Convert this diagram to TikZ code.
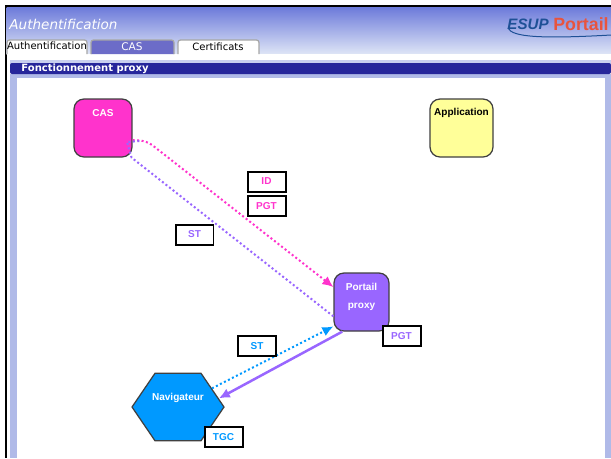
\documentclass[tikz,border=0pt]{standalone}
\usepackage{fontspec}
\setmainfont{Liberation Sans}
\newfontfamily\headfont{DejaVu Sans}
\usetikzlibrary{arrows.meta,shapes.geometric}

\definecolor{casPink}{RGB}{255,51,204}
\definecolor{appYellow}{RGB}{255,255,153}
\definecolor{proxyPurple}{RGB}{153,102,255}
\definecolor{navBlue}{RGB}{0,153,255}
\definecolor{barNavy}{RGB}{38,38,155}
\definecolor{barEdge}{RGB}{176,186,232}
\definecolor{headTop}{RGB}{108,122,218}
\definecolor{headBottom}{RGB}{222,229,246}
\definecolor{tabBlue}{RGB}{108,108,200}
\definecolor{logoBlue}{RGB}{30,80,150}
\definecolor{logoRed}{RGB}{232,84,62}

\tikzset{
	boxnode/.style={draw=black!75,line width=0.025cm,rounded corners=0.2cm,inner sep=0pt},
	boxtext/.style={text=white,font=\bfseries\fontsize{5.7}{10.2}\selectfont,align=center,inner sep=0pt},
	tagbox/.style={draw=black,line width=0.04cm,fill=white,minimum width=0.76cm,minimum height=0.4cm,inner sep=0pt,font=\bfseries\fontsize{5.7}{6}\selectfont},
	tabedge/.style={draw=black!35,line width=0.025cm,rounded corners=0.05cm},
	tabtext/.style={inner sep=0pt,font=\headfont\fontsize{5.7}{6}\selectfont},
	dotline/.style={line width=0.04cm,dash pattern=on 0.04cm off 0.05cm},
	tip/.style={-{Latex[length=0.22cm,width=0.2cm]}}
}

\begin{document}
\begin{tikzpicture}[x=0.02cm,y=-0.02cm]
	\useasboundingbox (0,0) rectangle (611,458);
	
	% Draw window and header
	\fill[black] (4.5,5) rectangle (611,458);
	\shade[top color=headTop,bottom color=headBottom] (6.5,7) rectangle (611,54);
	\fill[white] (6.5,54) rectangle (611,458);
	\fill[barEdge!70] (10,60) rectangle (611,64);
	\fill[barEdge] (10,74) rectangle (611,458);
	\fill[barNavy,rounded corners=0.04cm] (10,63) rectangle (611,74);
	\fill[white] (17,78) rectangle (605,458);
	\node[text=white,font=\headfont\itshape\fontsize{7.7}{9}\selectfont] (title) at (63.5,24) {Authentification};
	\node[text=white,font=\headfont\bfseries\fontsize{5.7}{6}\selectfont] (bar) at (85,68.5) {Fonctionnement proxy};
	
	% Draw logo
	\node[text=logoBlue,font=\bfseries\itshape\fontsize{8.6}{10}\selectfont,inner sep=0pt] (esup) at (528,24) {ESUP};
	\node[text=logoRed,font=\bfseries\fontsize{10.1}{10}\selectfont,inner sep=0pt] (portal) at (581,24) {Portail};
	\draw[logoBlue,line width=0.02cm] (508,28) .. controls (512,37) and (540,39) .. (611,35);
	
	% Draw tabs
	\draw[tabedge,fill=white] (7,54) -- (7,40) -- (87,40) -- (87,54);
	\draw[tabedge,fill=tabBlue] (91,54) -- (91,40) -- (174,40) -- (174,54);
	\draw[tabedge,fill=white] (178,54) -- (178,40) -- (259,40) -- (259,54);
	\node[tabtext] (authTab) at (47,45.5) {Authentification};
	\node[tabtext,text=white,font=\headfont\fontsize{6}{6}\selectfont] (casTab) at (132,46.5) {CAS};
	\node[tabtext] (certTab) at (218,46.5) {Certificats};
	
	% Draw nodes
	\node[boxnode,fill=casPink,minimum width=1.16cm,minimum height=1.16cm,label={[boxtext,yshift=0.3cm]center:CAS}] (CAS) at (103,128) {};
	\node[boxnode,fill=appYellow,minimum width=1.26cm,minimum height=1.16cm,label={[boxtext,text=black,yshift=0.3cm]center:Application}] (App) at (461.5,128) {};
	\node[boxnode,fill=proxyPurple,minimum width=1.1cm,minimum height=1.16cm,label={[boxtext,yshift=0.1cm]center:Portail\\proxy}] (Proxy) at (361.5,302) {};
	\node[draw=black!75,line width=0.025cm,fill=navBlue,regular polygon,regular polygon sides=6,minimum size=1.84cm,yscale=0.847,transform shape,inner sep=0pt,label={[boxtext,yshift=0.19cm]center:Navigateur}] (Nav) at (178,407) {};
	
	% Draw arcs
	\draw[dotline,casPink,tip,rounded corners=0.14cm] (CAS.-22) -- (147,141) -- (Proxy.152);
	\draw[dotline,proxyPurple] (Proxy.207) -- (CAS.-46) -- (127,142) -- (140,141);
	\draw[dotline,navBlue,tip] (Nav.33) -- (Proxy.221);
	\draw[proxyPurple,line width=0.05cm,tip] (Proxy.237) -- (Nav.14);
	
	% Draw tags
	\node[tagbox,text=casPink] (idTag) at (266.5,181.5) {ID};
	\node[tagbox,text=casPink] (pgtTag) at (266.5,206) {PGT};
	\node[tagbox,text=proxyPurple] (stProxy) at (194.5,234.5) {ST};
	\node[tagbox,text=navBlue] (stNav) at (257,346) {ST};
	\node[tagbox,text=proxyPurple] (pgtProxy) at (401.5,336) {PGT};
	\node[tagbox,text=navBlue] (tgcTag) at (223.5,437) {TGC};
	
\end{tikzpicture}
\end{document}
